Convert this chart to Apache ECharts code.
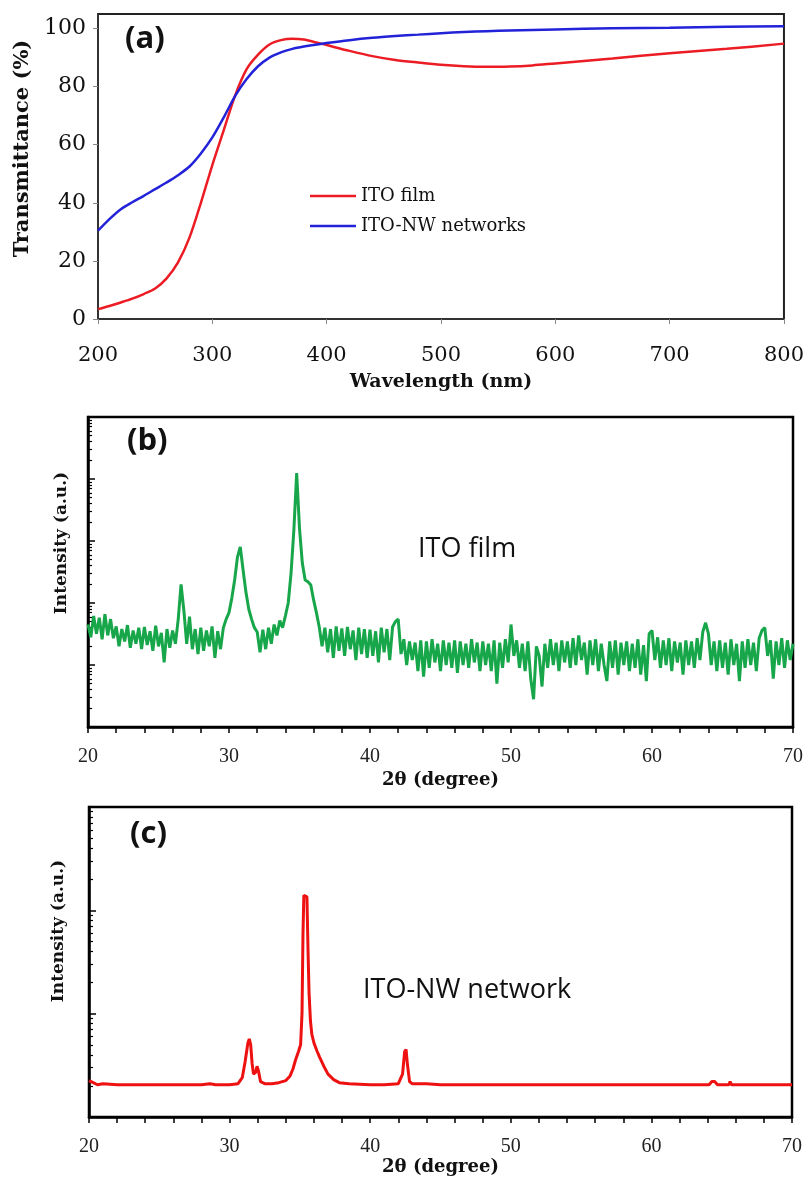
<!DOCTYPE html>
<html>
<head>
<meta charset="utf-8">
<script src="https://cdn.jsdelivr.net/npm/echarts@6/dist/echarts.min.js"></script>
<style>
  html, body { margin: 0; padding: 0; background: #fff; }
  #chart { width: 807px; height: 1178px; }
</style>
</head>
<body>
<div id="chart"></div>
<script>
// (a) transmittance spectra
const wavelength = [200, 210, 220, 230, 240, 250, 260, 270, 280, 290, 300, 310, 320, 330, 340, 350,
    360, 370, 380, 390, 400, 420, 440, 460, 480, 500, 520, 540, 560, 580, 600, 650, 700, 750, 800];
const itoFilmT = [3.4, 4.5, 5.7, 7.0, 8.6, 10.5, 14, 19.5, 28, 40, 53, 65, 77, 86, 91, 94.5,
    96, 96.5, 96.2, 95.3, 94.3, 92.3, 90.5, 89.2, 88.3, 87.5, 87, 86.8, 86.9, 87.3, 88, 89.7, 91.5, 93, 94.8];
const itoNwT = [30.4, 34.4, 37.8, 40.2, 42.4, 44.7, 47, 49.5, 52.5, 57, 62.5, 69.4, 76.8, 82.6, 87, 90,
    91.8, 93, 93.8, 94.4, 95, 96, 96.8, 97.4, 97.9, 98.4, 98.8, 99.1, 99.3, 99.5, 99.7, 100.1, 100.3, 100.6, 100.8];

// (b) XRD of ITO film, sampled every 0.2 degree from 20 to 70
const filmStart = 20;
const filmStep = 0.2;
const intensityFilm = [
    45, 28, 62, 32, 58, 26, 66, 30, 55, 27,          // 20.0 - 21.8
    42, 20, 38, 24, 44, 19, 36, 22, 40, 18,          // 22.0 - 23.8
    41, 21, 35, 17, 43, 20, 33, 11, 38, 19,          // 24.0 - 25.8
    36, 22, 55, 200, 75, 22, 60, 18, 38, 15,         // 26.0 - 27.8
    40, 17, 36, 20, 42, 13, 35, 18, 40, 55,          // 28.0 - 29.8
    70, 120, 235, 550, 800, 340, 150, 80, 55, 40,    // 30.0 - 31.8
    34, 16, 37, 18, 40, 22, 45, 30, 52, 40,          // 32.0 - 33.8
    62, 100, 300, 1500, 12500, 1600, 440, 235, 220, 195, // 34.0 - 35.8
    112, 70, 41, 20, 40, 16, 38, 13, 42, 17,         // 36.0 - 37.8
    39, 14, 41, 18, 36, 12, 40, 15, 38, 13,          // 38.0 - 39.8
    37, 14, 35, 11, 40, 16, 38, 12, 41, 50,          // 40.0 - 41.8
    55, 15, 26, 10, 24, 12, 23, 8, 25, 6.5,          // 42.0 - 43.8
    24, 9, 26, 11, 22, 8, 25, 10, 23, 9,             // 44.0 - 45.8
    25, 7.5, 24, 10, 22, 9, 26, 11, 23, 8,           // 46.0 - 47.8
    24, 10, 22, 8, 25, 5, 23, 9, 26, 11,             // 48.0 - 49.8
    45, 14, 25, 9, 22, 8, 24, 6, 2.8, 20,            // 50.0 - 51.8
    14, 4.5, 22, 9, 26, 10, 23, 8, 25, 11,           // 52.0 - 53.8
    24, 9, 27, 10, 30, 12, 23, 7, 25, 10,            // 54.0 - 55.8
    26, 8, 22, 10, 5.5, 24, 9, 25, 7, 23,            // 56.0 - 57.8
    10, 24, 8, 22, 9, 26, 7, 21, 5.5, 32,            // 58.0 - 59.8
    36, 12, 28, 9, 25, 10, 27, 8, 24, 11,            // 60.0 - 61.8
    23, 7, 25, 10, 24, 9, 27, 12, 34, 48,            // 62.0 - 63.8
    32, 10, 24, 8, 25, 9, 23, 7, 26, 10,             // 64.0 - 65.8
    22, 5.5, 24, 9, 26, 10, 23, 8, 27, 36,           // 66.0 - 67.8
    40, 14, 25, 6, 24, 10, 27, 9, 25, 12,            // 68.0 - 69.8
    22                                               // 70.0
];

// (c) XRD of ITO-NW network
const twoThetaNw = [20.0, 20.3, 20.6, 21.0, 22.0, 24.0, 26.0, 28.0, 28.6, 29.0, 30.0, 30.6, 30.9, 31.1, 31.3,
    31.4, 31.5, 31.6, 31.7, 31.85, 31.95, 32.05, 32.2, 32.5, 33.0, 33.5, 34.0, 34.3, 34.5, 34.7,
    34.9, 35.05, 35.15, 35.22, 35.28, 35.4, 35.5, 35.58, 35.65, 35.75, 35.85, 36.0, 36.2, 36.4, 36.7,
    37.0, 37.4, 37.8, 38.5, 40.0, 41.0, 42.0, 42.3, 42.45, 42.55, 42.65, 42.8, 43.0, 44.0, 45.0,
    50.0, 55.0, 60.0, 64.1, 64.3, 64.5, 64.7, 65.5, 65.6, 65.7, 70.0];
const intensityNw = [2.25, 2.15, 2.05, 2.1, 2.05, 2.05, 2.05, 2.05, 2.1, 2.05, 2.05, 2.1, 2.4, 3.4, 5.2,
    5.7, 5.0, 3.3, 2.6, 2.7, 3.1, 2.8, 2.2, 2.1, 2.1, 2.15, 2.25, 2.5, 2.9, 3.6,
    4.3, 5.0, 10, 60, 140, 146, 135, 40, 16, 8.5, 6.3, 5.2, 4.4, 3.8, 3.1,
    2.6, 2.3, 2.15, 2.1, 2.05, 2.05, 2.1, 2.6, 4.3, 4.5, 3.2, 2.2, 2.1, 2.1, 2.05,
    2.05, 2.05, 2.05, 2.05, 2.2, 2.2, 2.05, 2.05, 2.2, 2.05, 2.05];

// tick labels
const wavelengthTicks = [200, 300, 400, 500, 600, 700, 800];
const transmittanceTicks = [0, 20, 40, 60, 80, 100];
const twoThetaTicks = [20, 30, 40, 50, 60, 70];

// log axis tick positions (decades + 2..9 minors)
function logTicks(maxDecade) {
    let major = [], minor = [];
    for (let d = 0; d < maxDecade; d++) {
        let p = Math.pow(10, d);
        if (d > 0) major.push(p);
        for (let k = 2; k <= 9; k++) minor.push(k * p);
    }
    return {major, minor};
}
const logB = logTicks(5);
const logC = logTicks(3);

const serif = 'DejaVu Serif';
const timesLike = 'Liberation Serif';

let chart = echarts.init(document.getElementById('chart'), null, {renderer: 'canvas'});

let panelTitle = (text, left, top, size) => ({
    text: text, left: left, top: top, padding: 0,
    textStyle: {fontFamily: 'Open Sans', fontWeight: 'bold', fontSize: size || 31, color: '#111'}
});
let plainTitle = (text, left, top) => ({
    text: text, left: left, top: top, padding: 0,
    textStyle: {fontFamily: 'Open Sans', fontWeight: 'normal', fontSize: 27, color: '#111'}
});

let xrdXAxis = (gridIndex, gap) => ({
    gridIndex: gridIndex, type: 'value', min: 20, max: 70, interval: 10,
    axisLine: {lineStyle: {color: '#000', width: 2.5}},
    axisTick: {show: true, inside: false, length: 6, lineStyle: {color: '#000', width: 1.5}},
    minorTick: {show: true, splitNumber: 5, length: 6, lineStyle: {color: '#000', width: 1.5}},
    axisLabel: {margin: 20, fontFamily: timesLike, fontSize: 20, color: '#222',
        customValues: twoThetaTicks},
    splitLine: {show: false},
    name: '2θ (degree)', nameLocation: 'middle', nameGap: gap,
    nameTextStyle: {fontFamily: serif, fontWeight: 'bold', fontSize: 18, color: '#111'}
});
let xrdYAxes = (gridIndex, maxVal, ticks, gap, pad) => ([{
    gridIndex: gridIndex, type: 'log', min: 1, max: maxVal, position: 'left',
    axisLine: {lineStyle: {color: '#000', width: 2.5}},
    axisTick: {show: true, inside: true, length: 7, customValues: ticks.major,
        lineStyle: {color: '#000', width: 1.5}},
    axisLabel: {show: false},
    splitLine: {show: false},
    name: 'Intensity (a.u.)', nameLocation: 'middle', nameRotate: 90, nameGap: gap,
    nameTextStyle: {fontFamily: serif, fontWeight: 'bold', fontSize: 17, color: '#111',
        padding: [0, 0, 0, pad]}
}, {
    gridIndex: gridIndex, type: 'log', min: 1, max: maxVal, position: 'left', offset: 0,
    axisLine: {show: false},
    axisTick: {show: true, inside: true, length: 4, customValues: ticks.minor,
        lineStyle: {color: '#000', width: 1.2}},
    axisLabel: {show: false},
    splitLine: {show: false}
}]);

let option = {
    animation: false,
    backgroundColor: '#fff',
    title: [
        panelTitle('(a)', 125, 24),
        panelTitle('(b)', 127, 426),
        panelTitle('(c)', 130, 819),
        plainTitle('ITO film', 418, 536),
        plainTitle('ITO-NW network', 363, 977)
    ],
    legend: {
        orient: 'vertical', left: 305, top: 182,
        icon: 'rect', itemWidth: 46, itemHeight: 2.5, itemGap: 12,
        textStyle: {fontFamily: serif, fontSize: 18, color: '#111'},
        data: ['ITO film', 'ITO-NW networks']
    },
    grid: [
        {left: 98, top: 14, width: 691, height: 305, show: true, borderColor: '#222', borderWidth: 2},
        {left: 88, top: 417, width: 705, height: 310, show: true, borderColor: '#000', borderWidth: 2.5},
        {left: 89, top: 807, width: 703, height: 310, show: true, borderColor: '#000', borderWidth: 2.5}
    ],
    xAxis: [{
        gridIndex: 0, type: 'value', min: 200, max: 800, interval: 100,
        axisLine: {lineStyle: {color: '#333', width: 2}},
        axisTick: {show: true, inside: false, length: 5, lineStyle: {color: '#888'}},
        axisLabel: {margin: 26, fontFamily: serif, fontSize: 21, color: '#111',
            customValues: wavelengthTicks},
        splitLine: {show: false},
        name: 'Wavelength (nm)', nameLocation: 'middle', nameGap: 54,
        nameTextStyle: {fontFamily: serif, fontWeight: 'bold', fontSize: 19, color: '#111'}
    }, xrdXAxis(1, 44), xrdXAxis(2, 40)],
    yAxis: [{
        gridIndex: 0, type: 'value', min: 0, max: 105, interval: 20,
        axisLine: {lineStyle: {color: '#333', width: 2}},
        axisTick: {show: true, inside: false, length: 5, customValues: transmittanceTicks,
            lineStyle: {color: '#888'}},
        axisLabel: {margin: 12, fontFamily: serif, fontSize: 22, color: '#111',
            customValues: transmittanceTicks},
        splitLine: {show: false},
        name: 'Transmittance (%)', nameLocation: 'middle', nameRotate: 90, nameGap: 52,
        nameTextStyle: {fontFamily: serif, fontWeight: 'bold', fontSize: 21, color: '#111',
            padding: [0, 0, 0, 36]}
    }].concat(xrdYAxes(1, 1e5, logB, 18, 58), xrdYAxes(2, 1e3, logC, 22, 62)),
    series: [{
        name: 'ITO film', type: 'line', xAxisIndex: 0, yAxisIndex: 0,
        data: wavelength.map((w, i) => [w, itoFilmT[i]]),
        showSymbol: false, smooth: 0.3, color: '#ec1c24',
        lineStyle: {width: 2.5, color: '#ec1c24'}
    }, {
        name: 'ITO-NW networks', type: 'line', xAxisIndex: 0, yAxisIndex: 0,
        data: wavelength.map((w, i) => [w, itoNwT[i]]),
        showSymbol: false, smooth: 0.3, color: '#2222d8',
        lineStyle: {width: 2.5, color: '#2222d8'}
    }, {
        name: 'film XRD', type: 'line', xAxisIndex: 1, yAxisIndex: 1,
        data: intensityFilm.map((v, i) => [filmStart + i * filmStep, v]),
        showSymbol: false, color: '#18a64a',
        lineStyle: {width: 3, color: '#18a64a'}
    }, {
        name: 'NW XRD', type: 'line', xAxisIndex: 2, yAxisIndex: 3,
        data: twoThetaNw.map((t, i) => [t, intensityNw[i]]),
        showSymbol: false, color: '#ee1111',
        lineStyle: {width: 3, color: '#ee1111'}
    }]
};
chart.setOption(option);
</script>
</body>
</html>
